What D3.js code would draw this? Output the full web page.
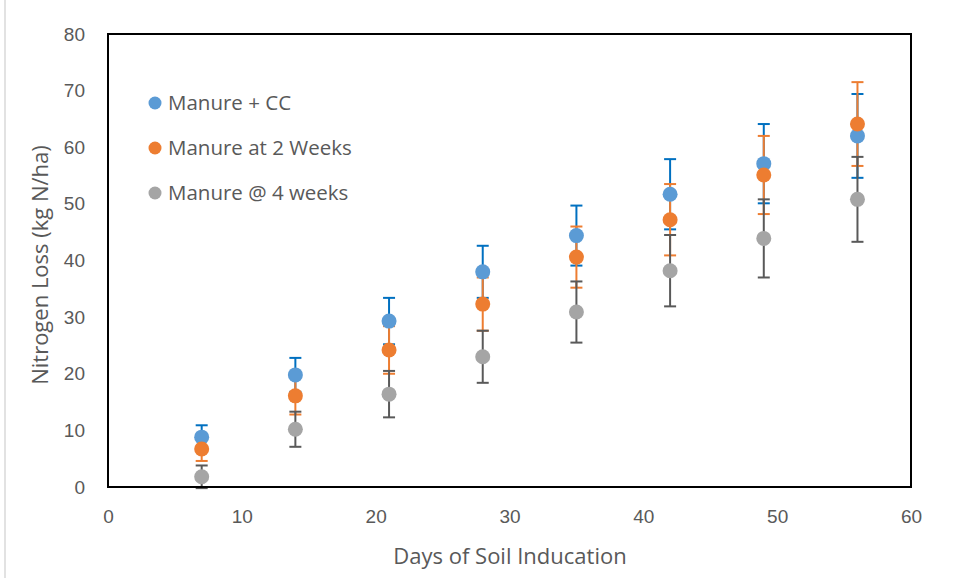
<!DOCTYPE html>
<html>
<head>
<meta charset="utf-8">
<script src="https://cdn.jsdelivr.net/npm/d3@7"></script>
<style>
  body { margin: 0; background: #fff; }
  svg { display: block; font-family: "Open Sans", "Liberation Sans", sans-serif; }
</style>
</head>
<body>
<svg id="chart" width="958" height="578"></svg>
<script>
// data
const days = [7, 14, 21, 28, 35, 42, 49, 56];
const manureCC = [8.8, 19.8, 29.3, 38.0, 44.4, 51.7, 57.1, 62.0];
const manureCCErr = [2.1, 3.0, 4.1, 4.6, 5.3, 6.2, 7.0, 7.4];
const manure2w = [6.7, 16.1, 24.2, 32.3, 40.6, 47.2, 55.1, 64.1];
const manure2wErr = [2.1, 3.3, 4.2, 4.7, 5.4, 6.3, 6.9, 7.4];
const manure4w = [1.8, 10.2, 16.4, 23.0, 30.9, 38.2, 43.9, 50.8];
const manure4wErr = [2.0, 3.1, 4.1, 4.6, 5.4, 6.3, 6.9, 7.5];
const xTicks = [0, 10, 20, 30, 40, 50, 60];
const yTicks = [0, 10, 20, 30, 40, 50, 60, 70, 80];

const series = [
    { name: "Manure + CC", values: manureCC, err: manureCCErr, fill: "#5B9BD5", errColor: "#0070C0" },
    { name: "Manure at 2 Weeks", values: manure2w, err: manure2wErr, fill: "#ED7D31", errColor: "#ED7D31" },
    { name: "Manure @ 4 weeks", values: manure4w, err: manure4wErr, fill: "#A5A5A5", errColor: "#595959" }
];

const svg = d3.select("#chart");
const margin = { left: 108, top: 34, right: 47, bottom: 91 };
const width = 958 - margin.left - margin.right;
const height = 578 - margin.top - margin.bottom;

// outer chart border (left edge visible)
svg.append("line")
    .attr("x1", 5).attr("x2", 5)
    .attr("y1", 0).attr("y2", 578)
    .attr("stroke", "#d9d9d9")
    .attr("stroke-width", 1.5);

const g = svg.append("g")
    .attr("transform", `translate(${margin.left},${margin.top})`);

const x = d3.scaleLinear().domain([0, 60]).range([0, width]);
const y = d3.scaleLinear().domain([0, 80]).range([height, 0]);

// X axis labels
g.append("g")
    .attr("transform", `translate(0,${height})`)
    .call(d3.axisBottom(x).tickValues(xTicks).tickSize(0).tickPadding(23))
    .call(a => a.select(".domain").remove())
    .selectAll("text")
    .attr("fill", "#595959")
    .style("font-size", "19px");

// Y axis labels
g.append("g")
    .call(d3.axisLeft(y).tickValues(yTicks).tickSize(0).tickPadding(23))
    .call(a => a.select(".domain").remove())
    .selectAll("text")
    .attr("fill", "#595959")
    .style("font-size", "19px");

// Axis titles
svg.append("text")
    .attr("x", 510)
    .attr("y", 564)
    .attr("text-anchor", "middle")
    .attr("fill", "#595959")
    .style("font-size", "22px")
    .text("Days of Soil Inducation");

svg.append("text")
    .attr("transform", "rotate(-90)")
    .attr("x", -265)
    .attr("y", 48)
    .attr("text-anchor", "middle")
    .attr("fill", "#595959")
    .style("font-size", "22px")
    .text("Nitrogen Loss (kg N/ha)");

// Error bars then markers for each series
series.forEach(s => {
    const pts = days.map((d, i) => ({ x: d, y: s.values[i], e: s.err[i] }));
    const eb = g.append("g").attr("stroke", s.errColor).attr("stroke-width", 2);
    eb.selectAll(".stem").data(pts).enter().append("line")
        .attr("x1", d => x(d.x)).attr("x2", d => x(d.x))
        .attr("y1", d => y(d.y - d.e)).attr("y2", d => y(d.y + d.e));
    eb.selectAll(".capT").data(pts).enter().append("line")
        .attr("x1", d => x(d.x) - 6).attr("x2", d => x(d.x) + 6)
        .attr("y1", d => y(d.y + d.e)).attr("y2", d => y(d.y + d.e));
    eb.selectAll(".capB").data(pts).enter().append("line")
        .attr("x1", d => x(d.x) - 6).attr("x2", d => x(d.x) + 6)
        .attr("y1", d => y(d.y - d.e)).attr("y2", d => y(d.y - d.e));
});

series.forEach(s => {
    const pts = days.map((d, i) => ({ x: d, y: s.values[i] }));
    g.append("g").selectAll("circle").data(pts).enter().append("circle")
        .attr("cx", d => x(d.x))
        .attr("cy", d => y(d.y))
        .attr("r", 7.5)
        .attr("fill", s.fill);
});

// plot frame
g.append("rect")
    .attr("x", 0).attr("y", 0)
    .attr("width", width).attr("height", height)
    .attr("fill", "none")
    .attr("stroke", "#000")
    .attr("stroke-width", 2);

// Legend
const legend = svg.append("g")
    .selectAll("g")
    .data(series)
    .enter().append("g")
    .attr("transform", (d, i) => `translate(155,${103 + i * 45})`);

legend.append("circle")
    .attr("r", 6.5)
    .attr("fill", d => d.fill);

legend.append("text")
    .attr("x", 13)
    .attr("dy", "0.35em")
    .attr("fill", "#595959")
    .style("font-size", "20.5px")
    .text(d => d.name);
</script>
</body>
</html>
